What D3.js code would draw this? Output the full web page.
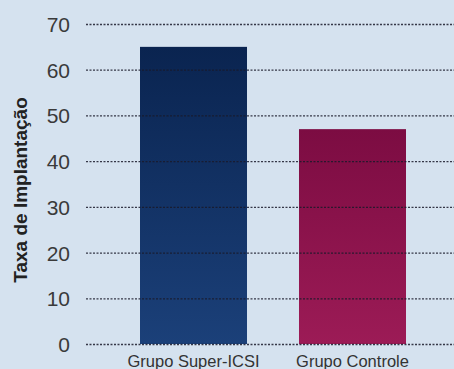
<!DOCTYPE html>
<html><head><meta charset="utf-8">
<script src="https://cdn.jsdelivr.net/npm/d3@7"></script>
<style>body{margin:0;background:#d5e2ef;}svg{display:block;}</style>
</head><body>
<svg id="c" width="454" height="369"></svg>
<script>
const categories = ["Grupo Super-ICSI", "Grupo Controle"];
const values = [65, 47];
const tickValues = [0, 10, 20, 30, 40, 50, 60, 70];
const yTitle = "Taxa de Implantação";
const colorsTop = ["#0a2450", "#7c0c42"];
const colorsBottom = ["#1b4079", "#9c1b56"];

const svg = d3.select("#c");
const W = 454, H = 369;
svg.append("rect").attr("width", W).attr("height", H).attr("fill", "#d5e2ef");

const defs = svg.append("defs");
categories.forEach((c, i) => {
  const g = defs.append("linearGradient").attr("id", "g" + i).attr("x1", 0).attr("y1", 0).attr("x2", 0).attr("y2", 1);
  g.append("stop").attr("offset", "0%").attr("stop-color", colorsTop[i]);
  g.append("stop").attr("offset", "100%").attr("stop-color", colorsBottom[i]);
});

const y = d3.scaleLinear().domain([0, 70]).range([344, 24]);
const x = d3.scaleBand().domain(categories).range([90, 456]).paddingInner(0.327).paddingOuter(0.3145);

// bars
svg.selectAll("rect.bar").data(values).enter().append("rect")
  .attr("class", "bar")
  .attr("x", (d, i) => x(categories[i]))
  .attr("width", x.bandwidth())
  .attr("y", d => y(d))
  .attr("height", d => y(0) - y(d))
  .attr("fill", (d, i) => "url(#g" + i + ")");

// gridlines over bars
svg.append("g").selectAll("line").data(tickValues).enter().append("line")
  .attr("x1", 86).attr("x2", W)
  .attr("y1", d => y(d) + 0.5).attr("y2", d => y(d) + 0.5)
  .attr("stroke", "#1a1a2a").attr("stroke-width", 1.3)
  .attr("stroke-dasharray", "2,1.5").attr("opacity", 0.85);

// y axis labels
const yAxis = d3.axisLeft(y).tickValues(tickValues).tickSize(0).tickPadding(0);
const ga = svg.append("g").attr("transform", "translate(70,0)").call(yAxis);
ga.select(".domain").remove();
ga.selectAll("text").attr("font-family", "Liberation Sans, Arial, sans-serif").attr("font-size", 21).attr("fill", "#3a3a3a").attr("dy", "0.36em");

// x labels
const xAxis = d3.axisBottom(x).tickSize(0).tickPadding(0);
const gx = svg.append("g").attr("transform", "translate(0,367)").call(xAxis);
gx.select(".domain").remove();
gx.selectAll("text").attr("font-family", "Liberation Sans, Arial, sans-serif").attr("font-size", 16.5).attr("fill", "#333").attr("dy", "0");

// y title
svg.append("text").attr("transform", "translate(27,190) rotate(-90)")
  .attr("text-anchor", "middle").attr("font-family", "Liberation Sans, Arial, sans-serif")
  .attr("font-weight", "bold").attr("font-size", 19).attr("fill", "#222").text(yTitle);
</script>
</body></html>
